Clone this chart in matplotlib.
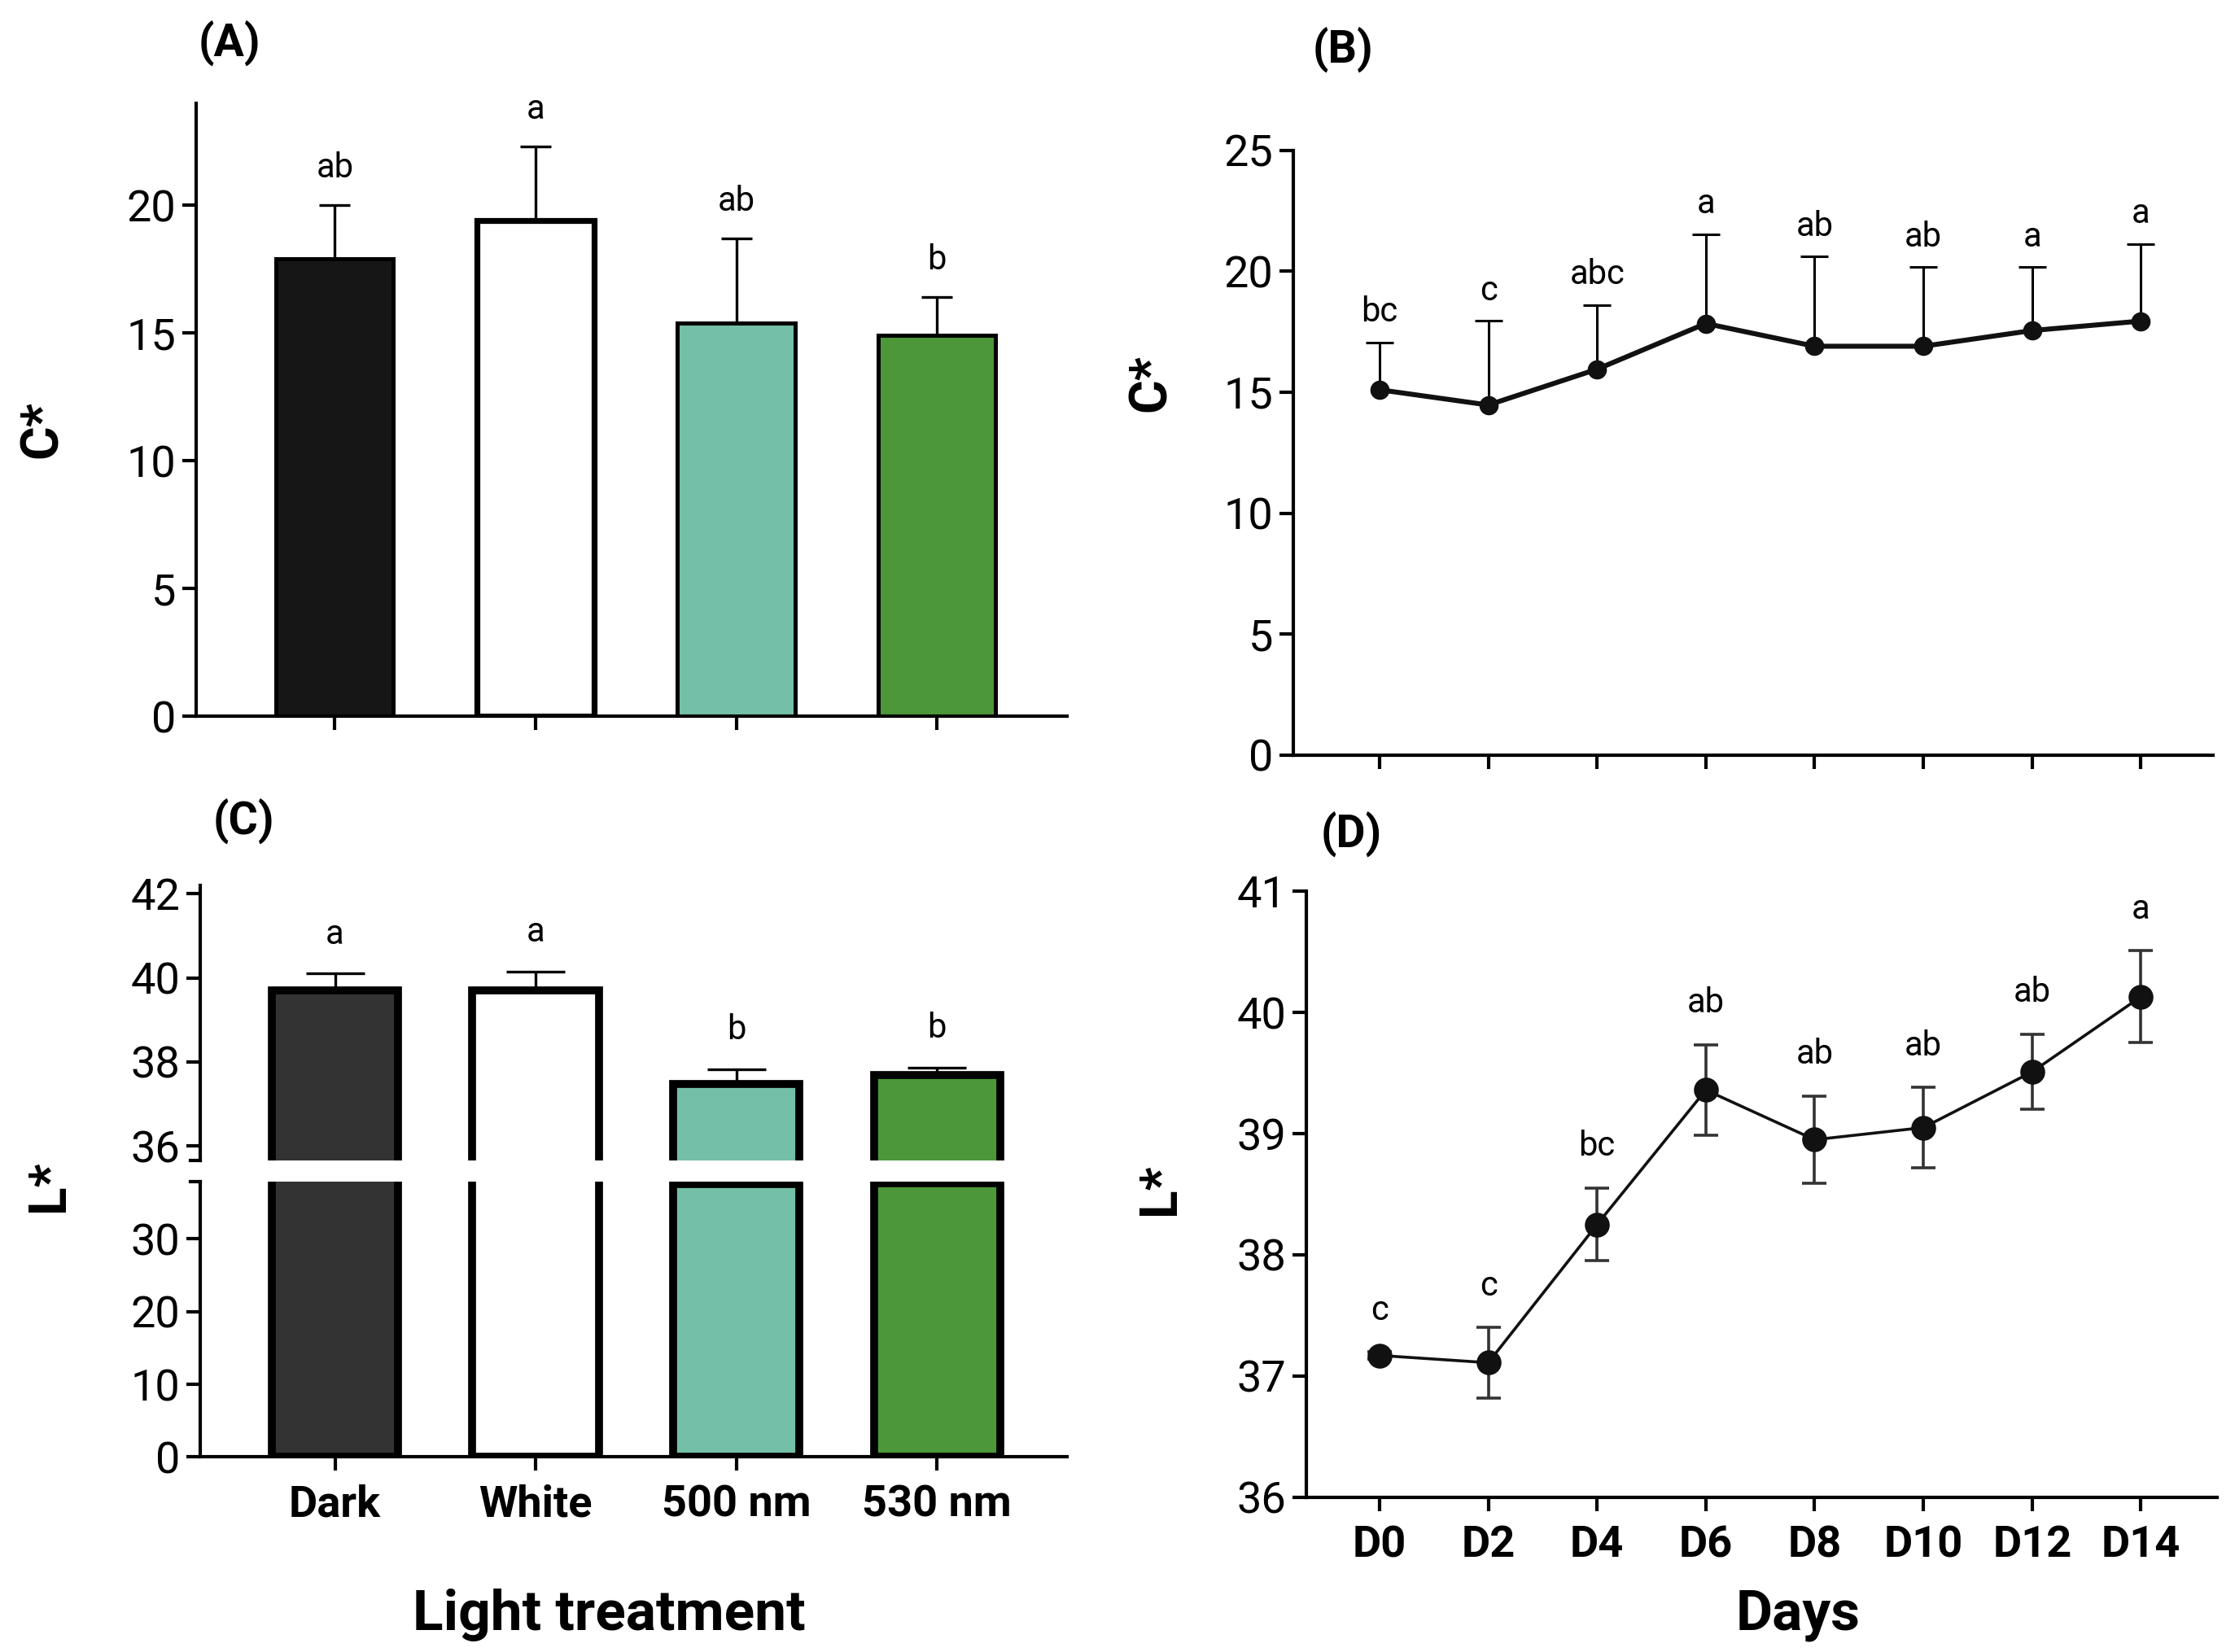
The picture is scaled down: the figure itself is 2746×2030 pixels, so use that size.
import numpy as np
from matplotlib import pyplot as plt

plt.rcParams['font.family'] = ['Roboto', 'DejaVu Sans']

# data
treatments = ['Dark', 'White', '500 nm', '530 nm']
colors_A = ['#161616', '#ffffff', '#74bfa8', '#4b9739']
colors_C = ['#333333', '#ffffff', '#74bfa8', '#4b9739']

chroma_light = [17.9, 19.4, 15.4, 14.9]
chroma_light_err = [2.1, 2.9, 3.3, 1.5]
chroma_light_letters = ['ab', 'a', 'ab', 'b']

light_L = [39.7, 39.7, 37.48, 37.68]
light_L_err = [0.4, 0.45, 0.34, 0.19]
light_L_letters = ['a', 'a', 'b', 'b']

days = ['D0', 'D2', 'D4', 'D6', 'D8', 'D10', 'D12', 'D14']
chroma_days = [15.1, 14.47, 15.95, 17.84, 16.9, 16.9, 17.55, 17.94]
chroma_days_err = [1.96, 3.48, 2.65, 3.7, 3.7, 3.27, 2.62, 3.18]
chroma_days_letters = ['bc', 'c', 'abc', 'a', 'ab', 'ab', 'a', 'a']

days_L = [37.17, 37.11, 38.25, 39.36, 38.95, 39.05, 39.51, 40.13]
days_L_err = [0.03, 0.29, 0.3, 0.375, 0.36, 0.33, 0.31, 0.38]
days_L_letters = ['c', 'c', 'bc', 'ab', 'ab', 'ab', 'ab', 'a']

TICK = 19.5
LET = 15

fig = plt.figure(figsize=(13.73, 10.15), dpi=200)


def style_axes(ax, lw=1.5):
    for s in ['top', 'right']:
        ax.spines[s].set_visible(False)
    for s in ['left', 'bottom']:
        ax.spines[s].set_linewidth(lw)
    ax.tick_params(axis='both', labelsize=TICK, width=lw, length=6, pad=3)


def up_errors(ax, x, y, err, cap, lw=1.2, color='black'):
    top = np.array(y) + np.array(err)
    ax.vlines(x, y, top, colors=color, linewidth=lw, zorder=3)
    ax.plot(x, top, linestyle='none', marker='_', markersize=cap,
            markeredgewidth=lw, color=color, zorder=3)
    return top


def letters(ax, x, top, labels, off):
    for xi, ti, lab in zip(x, top, labels):
        ax.annotate(lab, (xi, ti), xytext=(0, off), textcoords='offset points',
                    ha='center', va='bottom', fontsize=LET)


# (A) chroma by light treatment
axA = fig.add_axes([0.0878, 0.5663, 0.3898, 0.3713])
xa = np.arange(len(treatments))
axA.bar(xa, chroma_light, width=0.585, color=colors_A, edgecolor='black',
        linewidth=[1.8, 2.6, 1.8, 1.8], zorder=2)
top = up_errors(axA, xa, chroma_light, chroma_light_err, cap=14)
letters(axA, xa, top, chroma_light_letters, 9)
axA.set_xlim(-0.69, 3.65)
axA.set_ylim(0, 24)
axA.set_yticks([0, 5, 10, 15, 20])
axA.set_xticks(xa)
axA.set_xticklabels([])
style_axes(axA)

# (B) chroma by day
axB = fig.add_axes([0.5788, 0.543, 0.4112, 0.366])
xb = np.arange(len(days))
axB.plot(xb, chroma_days, color='#111111', linewidth=2.2, marker='o',
         markersize=7.5, zorder=4)
top = up_errors(axB, xb, chroma_days, chroma_days_err, cap=12.5, lw=1.1)
letters(axB, xb, top, chroma_days_letters, 6)
axB.set_xlim(-0.79, 7.66)
axB.set_ylim(0, 25)
axB.set_yticks([0, 5, 10, 15, 20, 25])
axB.set_xticks(xb)
axB.set_xticklabels([])
style_axes(axB)

# (C) L* by light treatment, broken axis
axCu = fig.add_axes([0.0897, 0.2975, 0.3879, 0.1665])
axCl = fig.add_axes([0.0897, 0.118, 0.3879, 0.1665])
for ax in (axCu, axCl):
    ax.bar(xa, light_L, width=0.63, color=colors_C, edgecolor='black',
           linewidth=3.5, zorder=2)
    ax.set_xlim(-0.67, 3.65)
    style_axes(ax)
top = up_errors(axCu, xa, light_L, light_L_err, cap=26)
letters(axCu, xa, top, light_L_letters, 10)
axCu.set_ylim(35.65, 42.2)
axCu.set_yticks([36, 38, 40, 42])
axCu.spines['bottom'].set_visible(False)
axCu.tick_params(axis='x', bottom=False, labelbottom=False)
axCl.set_ylim(0, 37.8)
axCl.set_yticks([0, 10, 20, 30])
axCl.set_xticks(xa)
axCl.set_xticklabels(treatments, fontsize=TICK, fontweight='bold')
axCl.tick_params(axis='x', pad=6)
# break marks on the y axis
axCu.plot([-0.012, 0.0], [0.0, 0.0], transform=axCu.transAxes,
          color='black', lw=1.5, clip_on=False)
axCl.plot([-0.012, 0.0], [1.0, 1.0], transform=axCl.transAxes,
          color='black', lw=1.5, clip_on=False)

# (D) L* by day
axD = fig.add_axes([0.5846, 0.0937, 0.4074, 0.3668])
axD.errorbar(xb, days_L, yerr=days_L_err, color='#111111', ecolor='#333333',
             linewidth=1.3, elinewidth=1.3, capsize=5.5, capthick=1.3,
             marker='o', markersize=10, zorder=4)
top = np.array(days_L) + np.array(days_L_err)
letters(axD, xb, top, days_L_letters, 11)
axD.set_xlim(-0.67, 7.7)
axD.set_ylim(36, 41)
axD.set_yticks([36, 37, 38, 39, 40, 41])
axD.set_xticks(xb)
axD.set_xticklabels(days, fontsize=TICK, fontweight='bold')
style_axes(axD)
axD.tick_params(axis='x', pad=6)

# panel letters and axis titles
fig.text(0.1026, 0.974, '(A)', fontsize=20, fontweight='bold', ha='center', va='center')
fig.text(0.601, 0.970, '(B)', fontsize=20, fontweight='bold', ha='center', va='center')
fig.text(0.109, 0.503, '(C)', fontsize=20, fontweight='bold', ha='center', va='center')
fig.text(0.6045, 0.495, '(D)', fontsize=20, fontweight='bold', ha='center', va='center')

fig.text(0.019, 0.74, 'C*', fontsize=23, fontweight='bold', rotation=90, ha='center', va='center')
fig.text(0.515, 0.768, 'C*', fontsize=23, fontweight='bold', rotation=90, ha='center', va='center')
fig.text(0.022, 0.282, 'L*', fontsize=23, fontweight='bold', rotation=90, ha='center', va='center')
fig.text(0.519, 0.28, 'L*', fontsize=23, fontweight='bold', rotation=90, ha='center', va='center')

fig.text(0.2724, 0.0226, 'Light treatment', fontsize=25, fontweight='bold', ha='center', va='center')
fig.text(0.8045, 0.0226, 'Days', fontsize=25, fontweight='bold', ha='center', va='center')

fig.savefig('out.png', dpi=200)
